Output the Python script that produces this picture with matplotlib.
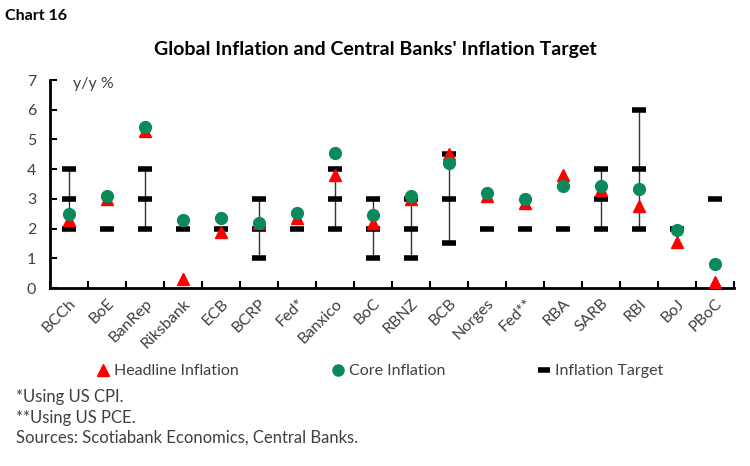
import matplotlib
matplotlib.use("Agg")
import matplotlib.pyplot as plt
from matplotlib.lines import Line2D

plt.rcParams['font.family'] = ['Lato', 'DejaVu Sans']

banks = ["BCCh", "BoE", "BanRep", "Riksbank", "ECB", "BCRP", "Fed*", "Banxico", "BoC",
         "RBNZ", "BCB", "Norges", "Fed**", "RBA", "SARB", "RBI", "BoJ", "PBoC"]
headline = [2.3, 3.0, 5.3, 0.3, 1.9, 2.2, 2.35, 3.8, 2.2,
            3.0, 4.5, 3.1, 2.85, 3.8, 3.3, 2.75, 1.55, 0.2]
core = [2.5, 3.1, 5.43, 2.3, 2.35, 2.2, 2.52, 4.54, 2.44,
        3.08, 4.22, 3.2, 3.0, 3.42, 3.42, 3.34, 1.95, 0.8]
targets = [[2, 3, 4], [2], [2, 3, 4], [2], [2], [1, 2, 3], [2], [2, 3, 4], [1, 2, 3],
           [1, 2, 3], [1.5, 3, 4.5], [2], [2], [2], [2, 3, 4], [2, 4, 6], [2], [3]]
yticks = [0, 1, 2, 3, 4, 5, 6, 7]

GREEN = "#0a8a5c"
RED = "#ff0000"

fig = plt.figure(figsize=(7.5, 4.66), dpi=100)
ax = fig.add_axes([50/750, 1-288/466, 684/750, 208/466])

xs = [i + 0.5 for i in range(len(banks))]

# target ranges
for x, t in zip(xs, targets):
    if len(t) > 1:
        ax.plot([x, x], [min(t), max(t)], color="#333333", lw=1.0, zorder=1)
for x, t in zip(xs, targets):
    ax.plot([x]*len(t), t, ls="none", marker="_", ms=10, mew=4, color="black",
            solid_capstyle="round", zorder=2)

ax.plot(xs, headline, ls="none", marker="^", ms=8.5, color=RED, mec=RED, zorder=3)
ax.plot(xs, core, ls="none", marker="o", ms=8.5, color=GREEN, mec=GREEN, zorder=4)

ax.set_xlim(0, len(banks))
ax.set_ylim(0, 7)
ax.set_yticks(yticks)
ax.set_yticklabels([str(v) for v in yticks], fontsize=11.5, color="#404040")
ax.set_xticks(xs)
ax.set_xticklabels(banks, rotation=45, ha="right", rotation_mode="anchor",
                   fontsize=11.5, color="#404040")
ax.tick_params(axis="x", length=0, pad=6)
ax.set_xticks(range(len(banks) + 1), minor=True)
ax.tick_params(axis="x", which="minor", direction="in", length=5, width=1.5, color="black")
ax.tick_params(axis="y", direction="in", length=5, width=1.5, color="black", pad=10)

for s in ["top", "right"]:
    ax.spines[s].set_visible(False)
for s in ["left", "bottom"]:
    ax.spines[s].set_linewidth(2)

ax.text(0.6, 6.85, "y/y %", fontsize=11.5, color="#404040", va="center", ha="left")

fig.text(5/750, 1-16/466, "Chart 16", fontsize=11.5, fontweight="bold", va="center", ha="left")
fig.text(375/750, 1-50/466, "Global Inflation and Central Banks' Inflation Target",
         fontsize=14, fontweight="bold", va="center", ha="center")

handles = [
    Line2D([], [], ls="none", marker="^", ms=8, color=RED),
    Line2D([], [], ls="none", marker="o", ms=8, color=GREEN),
    Line2D([], [], ls="none", marker="_", ms=9, mew=4, color="black"),
]
labels = ["Headline Inflation", "Core Inflation", "Inflation Target"]
leg = fig.legend(handles, labels, loc="center", bbox_to_anchor=(380/750, 1-371/466),
                 ncol=3, frameon=False, fontsize=11.5, columnspacing=5.8,
                 handlelength=0.8, handletextpad=0.3)
for t in leg.get_texts():
    t.set_color("#404040")

notes = ["*Using US CPI.", "**Using US PCE.", "Sources: Scotiabank Economics, Central Banks."]
for i, n in enumerate(notes):
    fig.text(16/750, 1-(397 + i*20.5)/466, n, fontsize=12, color="#404040",
             va="center", ha="left")

fig.savefig("out.png", dpi=100)
